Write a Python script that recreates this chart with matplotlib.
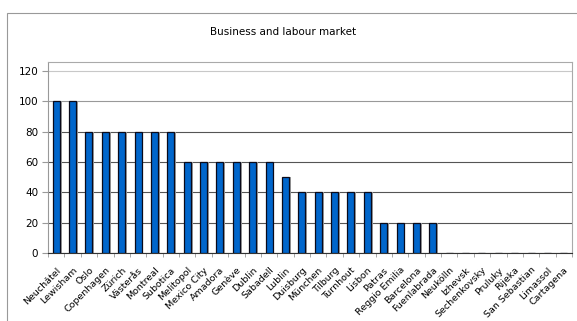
import matplotlib.pyplot as plt
from matplotlib.patches import Rectangle
import numpy as np

plt.rcParams['font.family'] = ['DejaVu Sans']

cities = ['Neuchâtel', 'Lewisham', 'Oslo', 'Copenhagen', 'Zürich', 'Västerås',
          'Montreal', 'Subotica', 'Melitopol', 'Mexico City', 'Amadora', 'Genève',
          'Dublin', 'Sabadell', 'Lublin', 'Duisburg', 'München', 'Tilburg',
          'Turnhout', 'Lisbon', 'Patras', 'Reggio Emilia', 'Barcelona',
          'Fuenlabrada', 'Neukölln', 'Izhevsk', 'Sechenkovsky', 'Pruluky',
          'Rijeka', 'San Sebastian', 'Limassol', 'Cartagena']
scores = [100, 100, 80, 80, 80, 80, 80, 80, 60, 60, 60, 60, 60, 60, 50,
          40, 40, 40, 40, 40, 20, 20, 20, 20, 0, 0, 0, 0, 0, 0, 0, 0]
y_ticks = [0, 20, 40, 60, 80, 100, 120]

fig = plt.figure(figsize=(5.77, 3.21), dpi=100)
# outer chart frame (only top and left edges visible in the crop)
fig.patches.append(Rectangle((7 / 577, -0.1), 1.2, 1 - 13 / 321 + 0.1,
                             transform=fig.transFigure, fill=False,
                             edgecolor='#999999', linewidth=0.8))

ax = fig.add_axes([48 / 577, 1 - 253 / 321, (572 - 48) / 577, (253 - 62) / 321])
x = np.arange(len(cities))

# grey shadow behind each bar, then the blue bar with a dark outline
ax.bar(x + 0.12, scores, width=0.42, color='#a0a0a0', zorder=2)
ax.bar(x, scores, width=0.42, color='#0066cc', edgecolor='#0a0a1a',
       linewidth=0.9, zorder=3)

ax.set_xlim(-0.5, len(cities) - 0.5)
ax.set_ylim(0, 126)
ax.set_yticks(y_ticks)
ax.yaxis.grid(True, color='#555555', linewidth=0.8, zorder=1)
ax.yaxis.get_gridlines()[-1].set_color('#c8c8c8')
ax.yaxis.get_gridlines()[-2].set_color('#999999')

ax.set_xticks(x)
ax.set_xticklabels(cities, rotation=45, ha='right', rotation_mode='anchor',
                   fontsize=6.8)
ax.set_xticks(np.arange(-0.5, len(cities)), minor=True)
ax.tick_params(axis='x', which='major', length=0, pad=9)
ax.tick_params(axis='x', which='minor', length=3, color='#999999')
ax.tick_params(axis='y', length=4, color='#999999', labelsize=7.5, pad=3)

ax.spines['left'].set_color('#999999')
ax.spines['bottom'].set_color('#333333')
ax.spines['top'].set_color('#aaaaaa')
ax.spines['right'].set_color('#aaaaaa')

fig.text(283 / 577, 1 - 32 / 321, 'Business and labour market', ha='center',
         va='center', fontsize=7.5)

fig.savefig('out.png', dpi=100)
